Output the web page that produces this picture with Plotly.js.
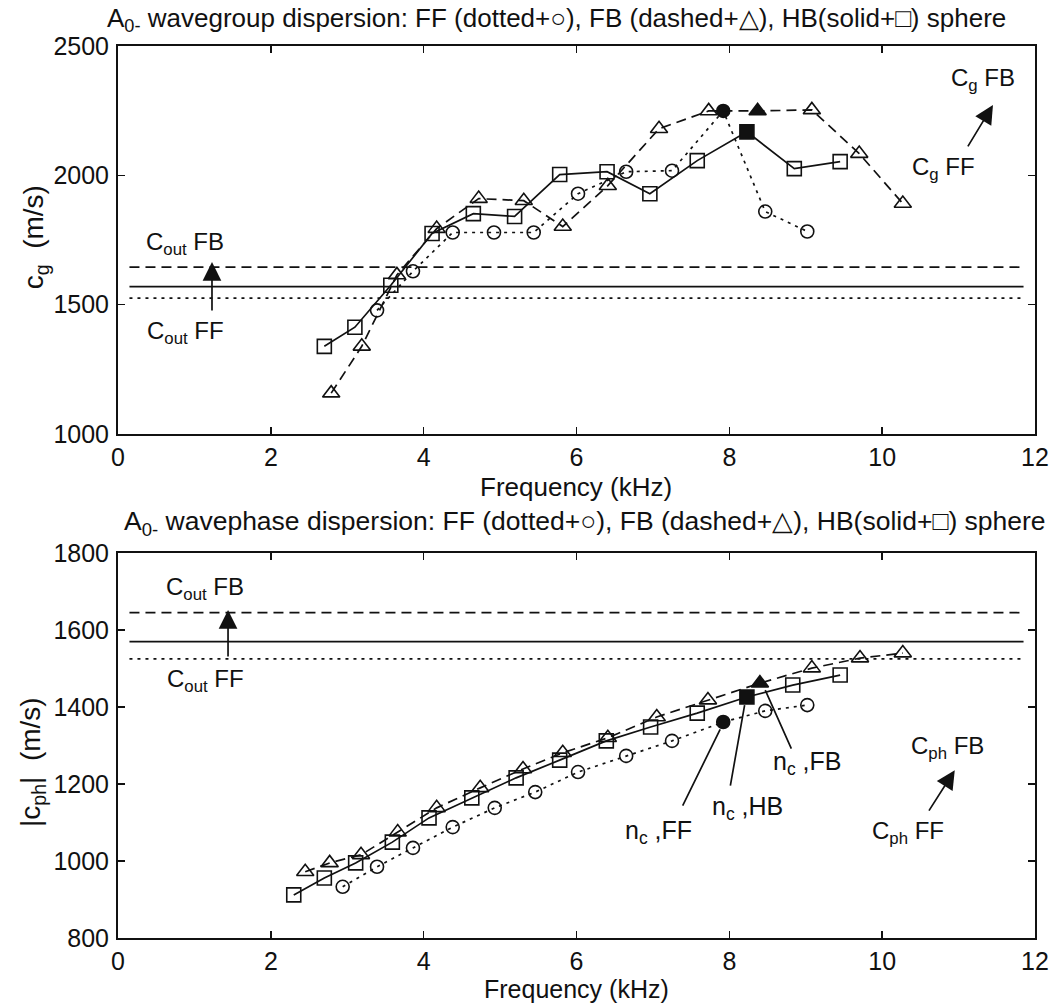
<!DOCTYPE html>
<html>
<head>
<meta charset="utf-8">
<script src="https://cdn.plot.ly/plotly-3.0.1.min.js"></script>
<style>html,body{margin:0;padding:0;background:#fff;}#chart{width:1058px;height:1003px;}</style>
</head>
<body>
<div id="chart"></div>
<script>
// ---------- data: group velocity (top) ----------
const cgFF_f = [3.39, 3.86, 4.38, 4.92, 5.44, 6.02, 6.65, 7.25, 7.92, 8.47, 9.02];
const cgFF_v = [1478, 1629, 1779, 1779, 1779, 1929, 2014, 2018, 2249, 1860, 1783];
const cgFB_f = [2.79, 3.19, 3.65, 4.17, 4.72, 5.31, 5.82, 6.41, 7.08, 7.73, 8.37, 9.08, 9.70, 10.27];
const cgFB_v = [1158, 1339, 1615, 1794, 1910, 1902, 1802, 1960, 2180, 2249, 2249, 2253, 2084, 1891];
const cgHB_f = [2.70, 3.10, 3.57, 4.11, 4.65, 5.19, 5.78, 6.40, 6.96, 7.58, 8.23, 8.85, 9.45];
const cgHB_v = [1339, 1413, 1575, 1775, 1852, 1841, 2003, 2014, 1929, 2057, 2168, 2026, 2053];
// index of the filled (n_c) point in each top series
const cgFF_nc = 8, cgFB_nc = 10, cgHB_nc = 10;

// ---------- data: phase velocity (bottom) ----------
const cphFF_f = [2.94, 3.39, 3.86, 4.38, 4.93, 5.46, 6.02, 6.65, 7.25, 7.92, 8.47, 9.02];
const cphFF_v = [933, 985, 1034, 1088, 1138, 1179, 1231, 1273, 1312, 1361, 1390, 1405];
const cphFB_f = [2.45, 2.77, 3.18, 3.66, 4.17, 4.74, 5.30, 5.82, 6.41, 7.05, 7.72, 8.40, 9.08, 9.71, 10.27];
const cphFB_v = [972, 995, 1016, 1075, 1138, 1190, 1239, 1281, 1320, 1374, 1418, 1462, 1501, 1527, 1540];
const cphHB_f = [2.30, 2.70, 3.11, 3.59, 4.07, 4.63, 5.21, 5.78, 6.39, 6.97, 7.58, 8.23, 8.83, 9.45];
const cphHB_v = [912, 956, 995, 1049, 1112, 1164, 1216, 1262, 1312, 1348, 1384, 1426, 1457, 1483];
const cphFF_nc = 9, cphFB_nc = 11, cphHB_nc = 11;

// outside (fluid) sound speeds, drawn as horizontal reference lines
const cOut_FB = 1645, cOut_HB = 1570, cOut_FF = 1525;
const refLineF = [0.15, 11.85];

// ---------- axis ticks ----------
const xTicks = [0, 2, 4, 6, 8, 10, 12];
const yTicksTop = [1000, 1500, 2000, 2500];
const yTicksBot = [800, 1000, 1200, 1400, 1600, 1800];

const K = '#111';
function syms(n, nc, open, filled) {
  const s = [];
  for (let i = 0; i < n; i++) s.push(i === nc ? filled : open);
  return s;
}
function series(f, v, nc, sym, dash, size, xa, ya) {
  return {
    x: f, y: v, xaxis: xa, yaxis: ya, type: 'scatter', mode: 'lines+markers',
    line: {color: K, width: 1.7, dash: dash},
    marker: {symbol: syms(f.length, nc, sym + '-open', sym), size: size, color: K,
             line: {color: K, width: 1.6}},
    showlegend: false, hoverinfo: 'skip'
  };
}
function hline(val, dash, xa, ya) {
  return {x: refLineF, y: [val, val], xaxis: xa, yaxis: ya, type: 'scatter', mode: 'lines',
          line: {color: K, width: 1.7, dash: dash}, showlegend: false, hoverinfo: 'skip'};
}
const DOT = '3px,5px', DASH = '10px,6px';

const traces = [
  hline(cOut_FB, DASH, 'x', 'y'), hline(cOut_HB, 'solid', 'x', 'y'), hline(cOut_FF, DOT, 'x', 'y'),
  series(cgFF_f, cgFF_v, cgFF_nc, 'circle', DOT, 13, 'x', 'y'),
  series(cgFB_f, cgFB_v, cgFB_nc, 'triangle-up', DASH, 15, 'x', 'y'),
  series(cgHB_f, cgHB_v, cgHB_nc, 'square', 'solid', 14, 'x', 'y'),
  hline(cOut_FB, DASH, 'x2', 'y2'), hline(cOut_HB, 'solid', 'x2', 'y2'), hline(cOut_FF, DOT, 'x2', 'y2'),
  series(cphFF_f, cphFF_v, cphFF_nc, 'circle', DOT, 13, 'x2', 'y2'),
  series(cphFB_f, cphFB_v, cphFB_nc, 'triangle-up', DASH, 15, 'x2', 'y2'),
  series(cphHB_f, cphHB_v, cphHB_nc, 'square', 'solid', 14, 'x2', 'y2')
];

const FONT = 'Liberation Sans, Arial, sans-serif';
const tickFont = {family: FONT, size: 25, color: K};
function xax(anchor) {
  return {range: [0, 12], tickvals: xTicks, ticktext: xTicks.map(String), ticks: 'inside', ticklen: 7,
          tickwidth: 1.5, tickcolor: K, showline: true, linecolor: K, linewidth: 2, mirror: 'ticks',
          showgrid: false, zeroline: false, tickfont: tickFont, anchor: anchor, domain: [0, 1], ticklabelstandoff: 0};
}
function yax(range, ticks, dom, anchor) {
  return {range: range, tickvals: ticks, ticktext: ticks.map(String), ticks: 'inside', ticklen: 7,
          tickwidth: 1.5, tickcolor: K, showline: true, linecolor: K, linewidth: 2, mirror: 'ticks',
          showgrid: false, zeroline: false, tickfont: {family: FONT, size: 25, color: K},
          domain: dom, anchor: anchor, ticklabelstandoff: 2};
}

function txt(x, y, text, xref, yref, size) {
  return {x: x, y: y, xref: xref, yref: yref, text: text, showarrow: false,
          font: {family: FONT, size: size || 22, color: K}, xanchor: 'center', yanchor: 'middle'};
}
function arrow(x, y, ax, ay, xref, yref, head) {
  return {x: x, y: y, ax: ax, ay: ay, xref: xref, yref: yref, axref: xref, ayref: yref,
          text: '', showarrow: true, arrowhead: head, arrowsize: head ? 2.2 : 1, arrowwidth: 1.7,
          arrowcolor: K, standoff: 0, startstandoff: 0};
}

const annotations = [
  // titles
  Object.assign(txt(0.478, 1.0505, 'A<sub>0-</sub> wavegroup dispersion: FF (dotted+○), FB (dashed+△), HB(solid+□) sphere', 'paper', 'paper', 26),
                {yanchor: 'top'}),
  txt(0.509, 0.465, 'A<sub>0-</sub> wavephase dispersion: FF (dotted+○), FB (dashed+△), HB(solid+□) sphere', 'paper', 'paper', 26.5),
  txt(0.4995, 0.506, 'Frequency (kHz)', 'paper', 'paper', 26),
  txt(0.4995, -0.0575, 'Frequency (kHz)', 'paper', 'paper', 25),
  Object.assign(txt(-0.089, 0.786, 'c<sub>g</sub>  (m/s)', 'paper', 'paper', 28), {textangle: -90}),
  Object.assign(txt(-0.093, 0.197, '|c<sub>ph</sub>|  (m/s)', 'paper', 'paper', 28), {textangle: -90}),
  // top plot labels
  txt(0.88, 1738, 'C<sub>out</sub> FB', 'x', 'y', 24),
  txt(0.88, 1394, 'C<sub>out</sub> FF', 'x', 'y', 24),
  arrow(1.23, 1665, 1.23, 1472, 'x', 'y', 2),
  txt(11.32, 2369, 'C<sub>g</sub> FB', 'x', 'y', 24),
  txt(10.80, 2028, 'C<sub>g</sub> FF', 'x', 'y', 24),
  arrow(11.45, 2272, 11.11, 2106, 'x', 'y', 2),
  // bottom plot labels
  txt(1.14, 1709, 'C<sub>out</sub> FB', 'x2', 'y2', 24),
  txt(1.14, 1470, 'C<sub>out</sub> FF', 'x2', 'y2', 24),
  arrow(1.44, 1652, 1.44, 1527, 'x2', 'y2', 2),
  txt(7.07, 1075, 'n<sub>c</sub> ,FF', 'x2', 'y2', 25),
  arrow(7.88, 1342, 7.38, 1140, 'x2', 'y2', 0),
  txt(8.24, 1138, 'n<sub>c</sub> ,HB', 'x2', 'y2', 25),
  arrow(8.20, 1405, 8.01, 1192, 'x2', 'y2', 0),
  txt(9.02, 1255, 'n<sub>c</sub> ,FB', 'x2', 'y2', 25),
  arrow(8.47, 1444, 8.82, 1288, 'x2', 'y2', 0),
  txt(10.86, 1296, 'C<sub>ph</sub> FB', 'x2', 'y2', 24),
  txt(10.34, 1075, 'C<sub>ph</sub> FF', 'x2', 'y2', 24),
  arrow(10.95, 1236, 10.60, 1127, 'x2', 'y2', 2)
];

const layout = {
  width: 1058, height: 1003,
  margin: {l: 118, r: 23, t: 46, b: 65},
  paper_bgcolor: '#fff', plot_bgcolor: '#fff',
  font: {family: FONT, color: K},
  showlegend: false,
  xaxis: xax('y'),
  yaxis: yax([1000, 2500], yTicksTop, [0.565, 1], 'x'),
  xaxis2: xax('y2'),
  yaxis2: yax([800, 1800], yTicksBot, [0, 0.4316], 'x2'),
  annotations: annotations
};

Plotly.newPlot('chart', traces, layout, {displayModeBar: false, staticPlot: true});
</script>
</body>
</html>
